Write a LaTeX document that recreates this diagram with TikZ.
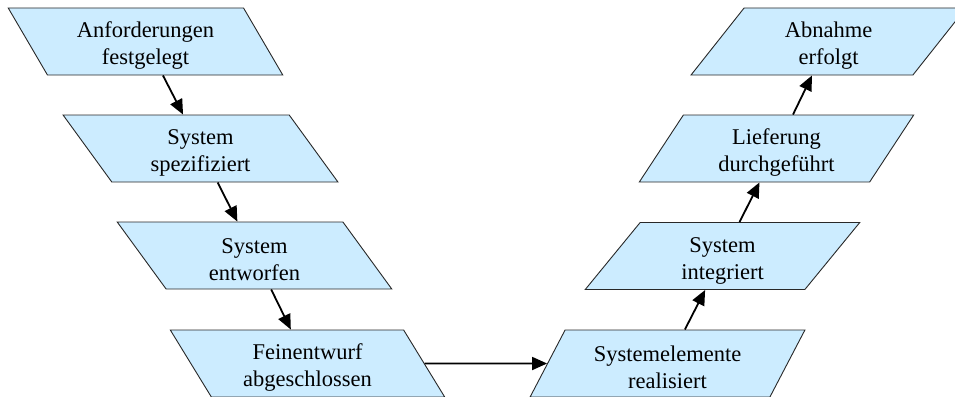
\documentclass[tikz,border=0pt]{standalone}
\usepackage{fontspec}
\setmainfont{Liberation Serif}
\usetikzlibrary{shapes.geometric,arrows.meta}
\definecolor{stepfill}{RGB}{204,236,255}
\definecolor{stepline}{RGB}{40,40,40}
% tall strut on the first line: sets the two-line label a little lower
\newcommand{\lowerstrut}{\rule{0pt}{24pt}}
\tikzset{
  stage/.style={trapezium, trapezium stretches=true,
    minimum width=275pt, minimum height=67pt, inner sep=0pt,
    draw=stepline, line width=0.9pt, fill=stepfill,
    align=center, font=\fontsize{22.5}{27}\selectfont},
  down/.style={stage, trapezium left angle=116.2, trapezium right angle=63.8},
  up/.style={stage, trapezium left angle=63.8, trapezium right angle=116.2},
  flow/.style={line width=1.8pt, -{Triangle[length=15pt,width=13pt]}}
}
\begin{document}
\begin{tikzpicture}[x=1pt,y=-1pt]
  \useasboundingbox (0,0) rectangle (955,396);
  \clip (0,0) rectangle (955,396);
  % left branch: specification down to detailed design
  \node[down] (req)  at (145.5,41.5)  {\lowerstrut Anforderungen\\festgelegt};
  \node[down] (spec) at (200.5,148.5) {\lowerstrut System\\spezifiziert};
  \node[down] (arch) at (254.5,255.5) {\lowerstrut System\\entworfen};
  \node[down] (des)  at (307.5,363.5) {\lowerstrut Feinentwurf\\abgeschlossen};
  % right branch: realisation up to acceptance
  \node[up] (impl) at (667.5,363.5) {\lowerstrut Systemelemente\\realisiert};
  \node[up] (int)  at (722.5,256)   {\lowerstrut System\\integriert};
  \node[up] (del)  at (776.5,148.5) {\lowerstrut Lieferung\\durchgeführt};
  \node[up] (acc)  at (828.5,41.5)  {\lowerstrut Abnahme\\erfolgt};
  % connectors
  \draw[flow] (req)  -- (spec);
  \draw[flow] (spec) -- (arch);
  \draw[flow] (arch) -- (des);
  \draw[flow] (des)  -- (impl);
  \draw[flow] (impl) -- (int);
  \draw[flow] (int)  -- (del);
  \draw[flow] (del)  -- (acc);
\end{tikzpicture}
\end{document}
